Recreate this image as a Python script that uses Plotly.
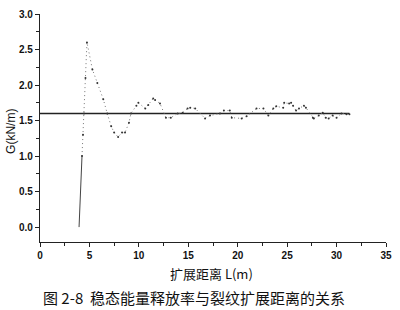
import plotly.graph_objects as go

# rising branch + oscillation + steady noisy section
crack_len = [3.95, 4.05, 4.15, 4.25, 4.35, 4.45, 4.6, 4.75,
             5.3, 5.8, 6.4, 6.8, 7.2, 7.5, 7.9, 8.3, 8.6, 9.0, 9.2,
             9.75, 9.95, 10.65, 10.95, 11.45, 11.64, 12.14, 12.74, 13.23, 13.93,
             14.43, 14.93, 15.2, 15.7, 16.7, 17.2, 18.2, 18.6, 19.2, 19.4,
             20.4, 20.9, 21.9, 22.6, 23.1, 23.6, 23.9, 24.6, 24.7, 25.2, 25.4,
             25.6, 25.9, 26.2, 26.7, 26.9, 27.6, 27.7, 28.2, 28.6, 28.9, 29.2,
             29.6, 30.0, 30.5, 31.0, 31.3]
g_value = [0.0, 0.3, 0.7, 1.0, 1.3, 1.6, 2.1, 2.6,
           2.22, 2.03, 1.8, 1.6, 1.42, 1.33, 1.27, 1.33, 1.33, 1.47, 1.6,
           1.71, 1.75, 1.67, 1.72, 1.81, 1.79, 1.74, 1.54, 1.54, 1.60,
           1.61, 1.67, 1.68, 1.67, 1.53, 1.57, 1.60, 1.64, 1.64, 1.54,
           1.53, 1.56, 1.67, 1.67, 1.57, 1.67, 1.70, 1.68, 1.75, 1.74, 1.75,
           1.71, 1.64, 1.67, 1.71, 1.68, 1.54, 1.53, 1.57, 1.61, 1.54, 1.53,
           1.57, 1.54, 1.60, 1.59, 1.59]

steady_x = [0, 31.3]
steady_g = [1.6, 1.6]

x_ticks = [0, 5, 10, 15, 20, 25, 30, 35]
y_ticks = [0.0, 0.5, 1.0, 1.5, 2.0, 2.5, 3.0]

SOLID_N = 4  # lower part of rising branch is drawn solid

fig = go.Figure()
fig.add_trace(go.Scatter(x=steady_x, y=steady_g, mode="lines",
                         line=dict(color="#222", width=1.4), showlegend=False))
fig.add_trace(go.Scatter(x=crack_len[:SOLID_N], y=g_value[:SOLID_N], mode="lines",
                         line=dict(color="#444", width=1), showlegend=False))
fig.add_trace(go.Scatter(x=crack_len[SOLID_N - 1:], y=g_value[SOLID_N - 1:],
                         mode="lines+markers",
                         line=dict(color="#777", width=1, dash="1px,3px"),
                         marker=dict(size=2, color="#333"),
                         showlegend=False))

axfont = dict(family="Liberation Sans, Arial", size=10, color="#111")
fig.update_layout(
    width=400, height=310,
    margin=dict(l=40, r=8, t=11, b=68),
    paper_bgcolor="white", plot_bgcolor="white",
    xaxis=dict(range=[0, 35], tickvals=x_ticks, ticktext=[f"<b>{v}</b>" for v in x_ticks],
               showgrid=False, zeroline=False, showline=True, linecolor="#222",
               linewidth=1.4, ticks="outside", ticklen=4, tickcolor="#222",
               minor=dict(dtick=2.5, ticks="outside", ticklen=3, tickcolor="#222"),
               tickfont=axfont),
    yaxis=dict(range=[-0.21, 3.0], tickvals=y_ticks,
               ticktext=[f"<b>{v:.1f}</b>" for v in y_ticks],
               showgrid=False, zeroline=False, showline=True, linecolor="#222",
               linewidth=1.4, ticks="outside", ticklen=4, tickcolor="#222",
               minor=dict(dtick=0.25, ticks="outside", ticklen=3, tickcolor="#222"),
               tickfont=axfont),
)

plot_h = 310 - 11 - 68
plot_w = 400 - 40 - 8
def px_to_paper(px, py):
    return (px - 40) / plot_w, (310 - 68 - py) / plot_h

texts = [
    ("G(kN/m)", 11, 130, -90, dict(family="Liberation Sans", size=12, color="#111")),
    ("扩展距离 L(m)", 214, 274, 0, dict(family="Noto Sans CJK SC", size=13, color="#111")),
    ("图 2-8  稳态能量释放率与裂纹扩展距离的关系", 197, 298, 0,
     dict(family="Noto Sans CJK SC", size=15, color="#111")),
]
for t, px, py, ang, f in texts:
    xp, yp = px_to_paper(px, py)
    fig.add_annotation(text=t, x=xp, y=yp, xref="paper", yref="paper",
                       showarrow=False, textangle=ang, font=f,
                       xanchor="center", yanchor="middle")

fig.write_html("out.html")
